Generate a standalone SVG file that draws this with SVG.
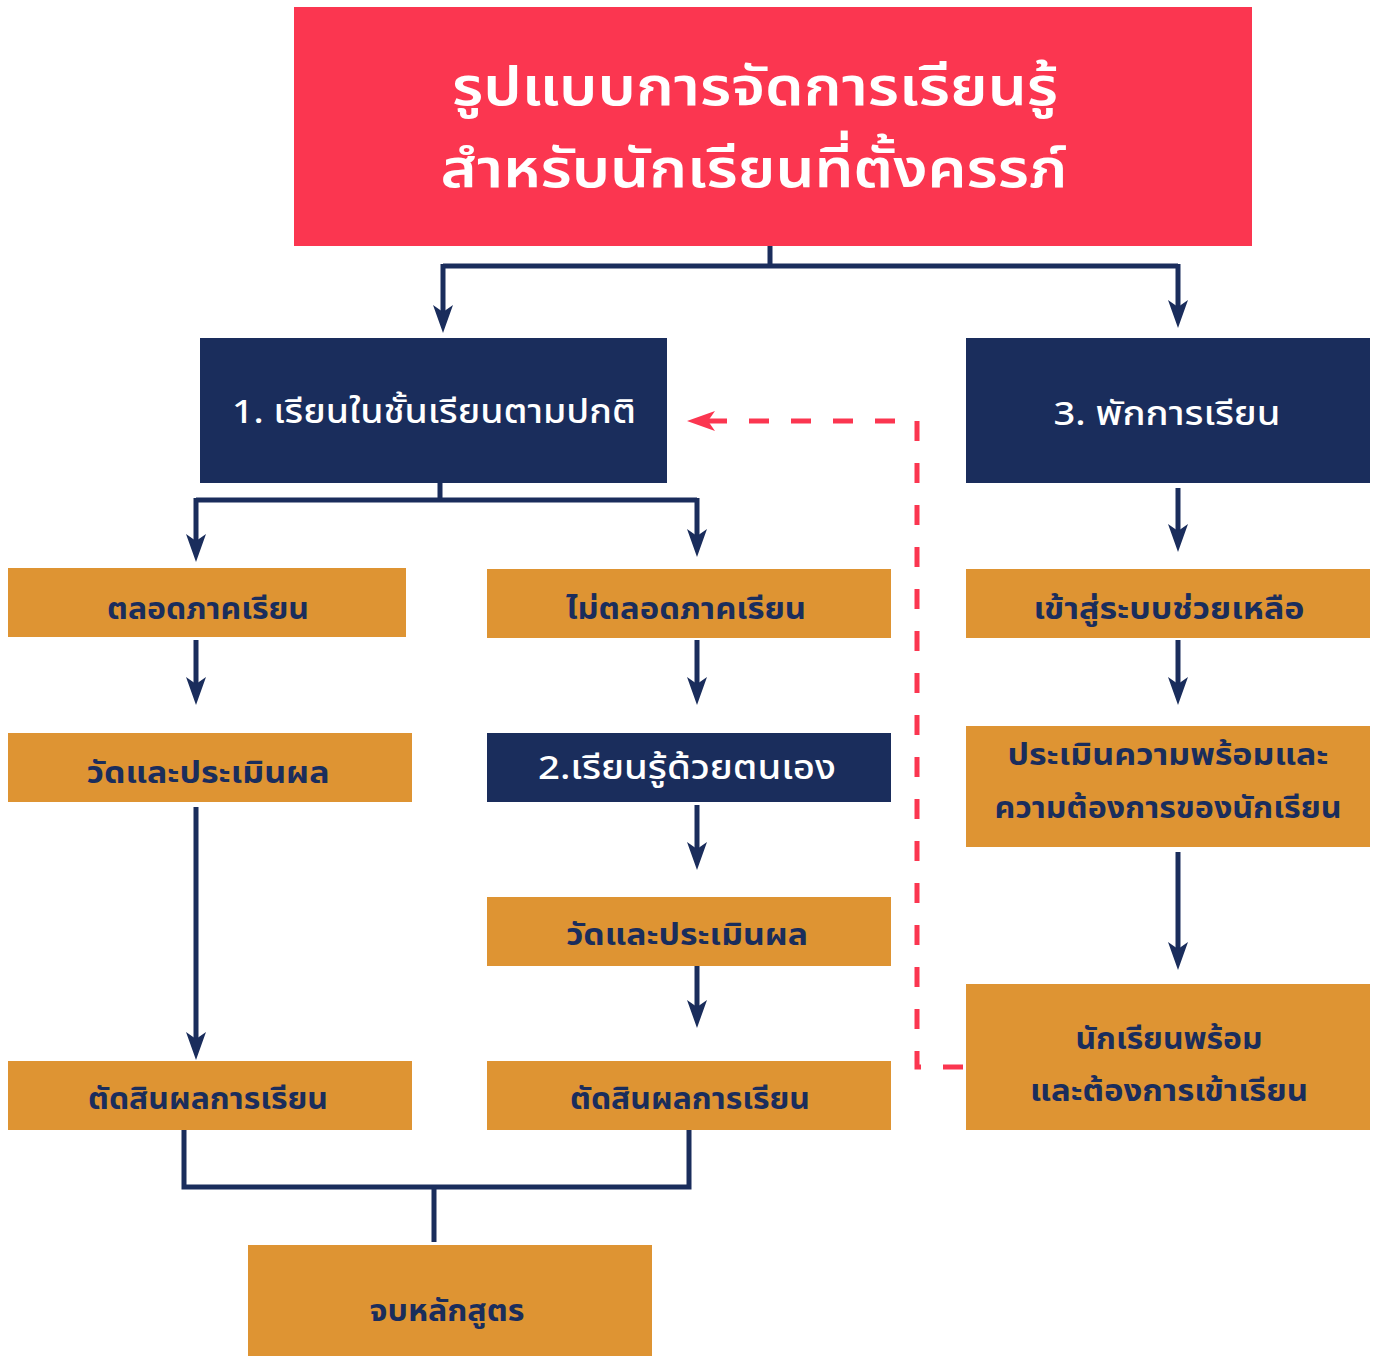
<svg xmlns="http://www.w3.org/2000/svg" width="1377" height="1357" viewBox="0 0 1377 1357">
<style>
.red{fill:#FB3650}
.navy{fill:#1A2D5C}
.org{fill:#DE9433}
text{font-family:"Noto Sans Thai","Noto Sans","DejaVu Sans",sans-serif;text-anchor:middle;dominant-baseline:central}
.tt{fill:#fff;font-size:54px;font-weight:600}
.wt{fill:#fff;font-size:33px;font-weight:500}
.dt{fill:#1A2D5C;font-size:30px;font-weight:700}
.ln{fill:none;stroke:#1A2D5C;stroke-width:5}
.ar{marker-end:url(#ah)}
.dash{fill:none;stroke:#FB3650;stroke-width:5;stroke-dasharray:20 22}
</style>
<defs>
<marker id="ah" markerUnits="userSpaceOnUse" markerWidth="30" markerHeight="24" refX="7" refY="11" orient="auto" viewBox="0 0 30 22">
<path d="M0,1 L28,11 L0,21 L7,11 Z" fill="#1A2D5C"/>
</marker>
<marker id="ahr" markerUnits="userSpaceOnUse" markerWidth="30" markerHeight="24" refX="7" refY="11" orient="auto" viewBox="0 0 30 22">
<path d="M0,1 L28,11 L0,21 L7,11 Z" fill="#FB3650"/>
</marker>
</defs>
<g id="connectors">
<path class="ln" d="M770,246 V266 M443,266 H1178"/>
<path class="ln ar" d="M443,264 V312"/>
<path class="ln ar" d="M1178,264 V307"/>
<path class="ln" d="M440,483 V500 M196,500 H697"/>
<path class="ln ar" d="M196,498 V541"/>
<path class="ln ar" d="M697,498 V536"/>
<path class="ln ar" d="M196,640 V684"/>
<path class="ln ar" d="M697,640 V684"/>
<path class="ln ar" d="M196,807 V1039"/>
<path class="ln ar" d="M697,805 V849"/>
<path class="ln ar" d="M697,965 V1007"/>
<path class="ln ar" d="M1178,488 V531"/>
<path class="ln ar" d="M1178,640 V684"/>
<path class="ln ar" d="M1178,852 V949"/>
<path class="ln" d="M184,1126 V1187 H689 V1130 M434,1187 V1242"/>
<path class="dash" d="M963,1067 H917 V421 H708" style="marker-end:url(#ahr)"/>
</g>
<g id="title"><rect class="red" x="294" y="7" width="958" height="239"/><text class="tt" x="755" y="88" textLength="606" lengthAdjust="spacingAndGlyphs">รูปแบบการจัดการเรียนรู้</text><text class="tt" x="754" y="170" textLength="627" lengthAdjust="spacingAndGlyphs">สำหรับนักเรียนที่ตั้งครรภ์</text></g>
<g id="n1"><rect class="navy" x="200" y="338" width="467" height="145"/><text class="wt" x="434" y="413" textLength="404" lengthAdjust="spacingAndGlyphs">1. เรียนในชั้นเรียนตามปกติ</text></g>
<g id="n3"><rect class="navy" x="966" y="338" width="404" height="145"/><text class="wt" x="1167" y="415" textLength="227" lengthAdjust="spacingAndGlyphs">3. พักการเรียน</text></g>
<g id="a1"><rect class="org" x="8" y="568" width="398" height="69"/><text class="dt" x="208" y="610" textLength="202" lengthAdjust="spacingAndGlyphs">ตลอดภาคเรียน</text></g>
<g id="b1"><rect class="org" x="487" y="569" width="404" height="69"/><text class="dt" x="686" y="610" textLength="240" lengthAdjust="spacingAndGlyphs">ไม่ตลอดภาคเรียน</text></g>
<g id="c1"><rect class="org" x="966" y="569" width="404" height="69"/><text class="dt" x="1169" y="610" textLength="271" lengthAdjust="spacingAndGlyphs">เข้าสู่ระบบช่วยเหลือ</text></g>
<g id="a2"><rect class="org" x="8" y="733" width="404" height="69"/><text class="dt" x="208" y="774" textLength="243" lengthAdjust="spacingAndGlyphs">วัดและประเมินผล</text></g>
<g id="b2"><rect class="navy" x="487" y="733" width="404" height="69"/><text class="wt" x="687" y="769" textLength="298" lengthAdjust="spacingAndGlyphs">2.เรียนรู้ด้วยตนเอง</text></g>
<g id="c2"><rect class="org" x="966" y="726" width="404" height="121"/><text class="dt" x="1168" y="756" textLength="321" lengthAdjust="spacingAndGlyphs">ประเมินความพร้อมและ</text><text class="dt" x="1168" y="809" textLength="347" lengthAdjust="spacingAndGlyphs">ความต้องการของนักเรียน</text></g>
<g id="b3"><rect class="org" x="487" y="897" width="404" height="69"/><text class="dt" x="687" y="936" textLength="242" lengthAdjust="spacingAndGlyphs">วัดและประเมินผล</text></g>
<g id="c3"><rect class="org" x="966" y="984" width="404" height="146"/><text class="dt" x="1169" y="1040" textLength="187" lengthAdjust="spacingAndGlyphs">นักเรียนพร้อม</text><text class="dt" x="1169" y="1092" textLength="278" lengthAdjust="spacingAndGlyphs">และต้องการเข้าเรียน</text></g>
<g id="a3"><rect class="org" x="8" y="1061" width="404" height="69"/><text class="dt" x="208" y="1100" textLength="240" lengthAdjust="spacingAndGlyphs">ตัดสินผลการเรียน</text></g>
<g id="b4"><rect class="org" x="487" y="1061" width="404" height="69"/><text class="dt" x="690" y="1100" textLength="240" lengthAdjust="spacingAndGlyphs">ตัดสินผลการเรียน</text></g>
<g id="end"><rect class="org" x="248" y="1245" width="404" height="111"/><text class="dt" x="447" y="1312" textLength="155" lengthAdjust="spacingAndGlyphs">จบหลักสูตร</text></g>
</svg>
